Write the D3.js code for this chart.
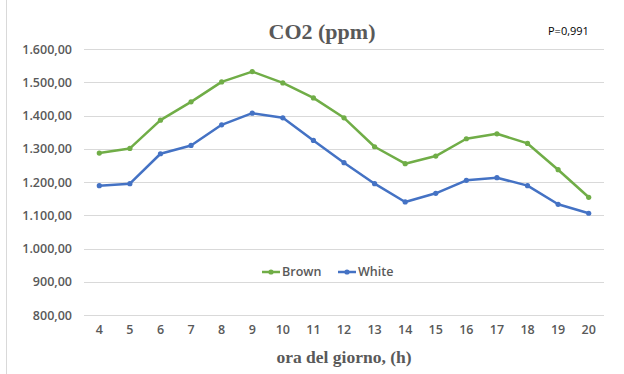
<!DOCTYPE html>
<html>
<head>
<meta charset="utf-8">
<script src="https://cdn.jsdelivr.net/npm/d3@7"></script>
<style>
  html, body { margin: 0; padding: 0; background: #fff; }
  svg { display: block; }
</style>
</head>
<body>
<svg id="chart" width="624" height="374"></svg>
<script>
// Hours of the day on the x axis
const hours = [4, 5, 6, 7, 8, 9, 10, 11, 12, 13, 14, 15, 16, 17, 18, 19, 20];
// CO2 concentration (ppm) per hour
const brown = [1287, 1301, 1386, 1441, 1501, 1532, 1498, 1453, 1393, 1306, 1255, 1278, 1330, 1345, 1316, 1237, 1154];
const white = [1189, 1195, 1285, 1310, 1372, 1407, 1393, 1325, 1258, 1195, 1140, 1166, 1205, 1213, 1189, 1133, 1106];
const yTicks = [800, 900, 1000, 1100, 1200, 1300, 1400, 1500, 1600];
const seriesNames = ["Brown", "White"];
const seriesColors = ["#70AD47", "#4472C4"];

const svg = d3.select("#chart");
const labelFont = "'Open Sans', sans-serif";
const textGray = "#595959";

// left edge of the chart frame
svg.append("line")
  .attr("x1", 6.5).attr("x2", 6.5).attr("y1", 0).attr("y2", 374)
  .attr("stroke", "#d9d9d9").attr("stroke-width", 1);

const x = d3.scaleBand().domain(hours).range([84, 604]);
const y = d3.scaleLinear().domain([800, 1600]).range([315, 49]);

// horizontal gridlines
svg.append("g").selectAll("line").data(yTicks).join("line")
  .attr("x1", 84).attr("x2", 604)
  .attr("y1", d => Math.round(y(d)) + 0.5).attr("y2", d => Math.round(y(d)) + 0.5)
  .attr("stroke", "#d9d9d9").attr("stroke-width", 1);

// y axis labels
const fmt = d3.formatLocale({ decimal: ",", thousands: ".", grouping: [3], currency: ["", ""] }).format(",.2f");
const yAxis = d3.axisLeft(y).tickValues(yTicks).tickFormat(fmt).tickSize(0).tickPadding(0);
const gy = svg.append("g").attr("transform", "translate(72,0)").call(yAxis);
gy.select(".domain").remove();
gy.selectAll("text")
  .attr("font-family", labelFont).attr("font-size", 12.5).attr("font-weight", 600)
  .attr("fill", textGray);

// x axis labels
const xAxis = d3.axisBottom(x).tickSize(0).tickPadding(0);
const gx = svg.append("g").attr("transform", "translate(0,325)").call(xAxis);
gx.select(".domain").remove();
gx.selectAll("text")
  .attr("font-family", labelFont).attr("font-size", 12.5).attr("font-weight", 600)
  .attr("fill", textGray);

// series lines with markers
const line = d3.line().x((d, i) => x(hours[i]) + x.bandwidth() / 2).y(d => y(d));
[brown, white].forEach((vals, k) => {
  const g = svg.append("g");
  g.append("path").datum(vals)
    .attr("d", line).attr("fill", "none")
    .attr("stroke", seriesColors[k]).attr("stroke-width", 2.5)
    .attr("stroke-linejoin", "round");
  g.selectAll("circle").data(vals).join("circle")
    .attr("cx", (d, i) => x(hours[i]) + x.bandwidth() / 2)
    .attr("cy", d => y(d)).attr("r", 2.6)
    .attr("fill", seriesColors[k]);
});

// legend
const legendX = [262, 338];
seriesNames.forEach((name, k) => {
  const g = svg.append("g").attr("transform", `translate(${legendX[k]},272)`);
  g.append("line").attr("x1", 0).attr("x2", 18).attr("y1", 0).attr("y2", 0)
    .attr("stroke", seriesColors[k]).attr("stroke-width", 2.5);
  g.append("circle").attr("cx", 9).attr("cy", 0).attr("r", 2.6).attr("fill", seriesColors[k]);
  g.append("text").attr("x", 20).attr("y", 0).attr("dy", "0.35em")
    .attr("font-family", labelFont).attr("font-size", 12.5).attr("font-weight", 600)
    .attr("fill", textGray).text(name);
});

// title
svg.append("text").attr("x", 322).attr("y", 39).attr("text-anchor", "middle")
  .attr("font-family", "'Liberation Serif', serif").attr("font-weight", "bold")
  .attr("font-size", 22).attr("fill", textGray).text("CO2 (ppm)");

// correlation note
svg.append("text").attr("x", 548).attr("y", 35)
  .attr("font-family", labelFont).attr("font-size", 11).attr("fill", "#000")
  .text("P=0,991");

// x axis title
svg.append("text").attr("x", 344).attr("y", 363).attr("text-anchor", "middle")
  .attr("font-family", "'Liberation Serif', serif").attr("font-weight", "bold")
  .attr("font-size", 17.5).attr("fill", textGray).text("ora del giorno, (h)");
</script>
</body>
</html>
